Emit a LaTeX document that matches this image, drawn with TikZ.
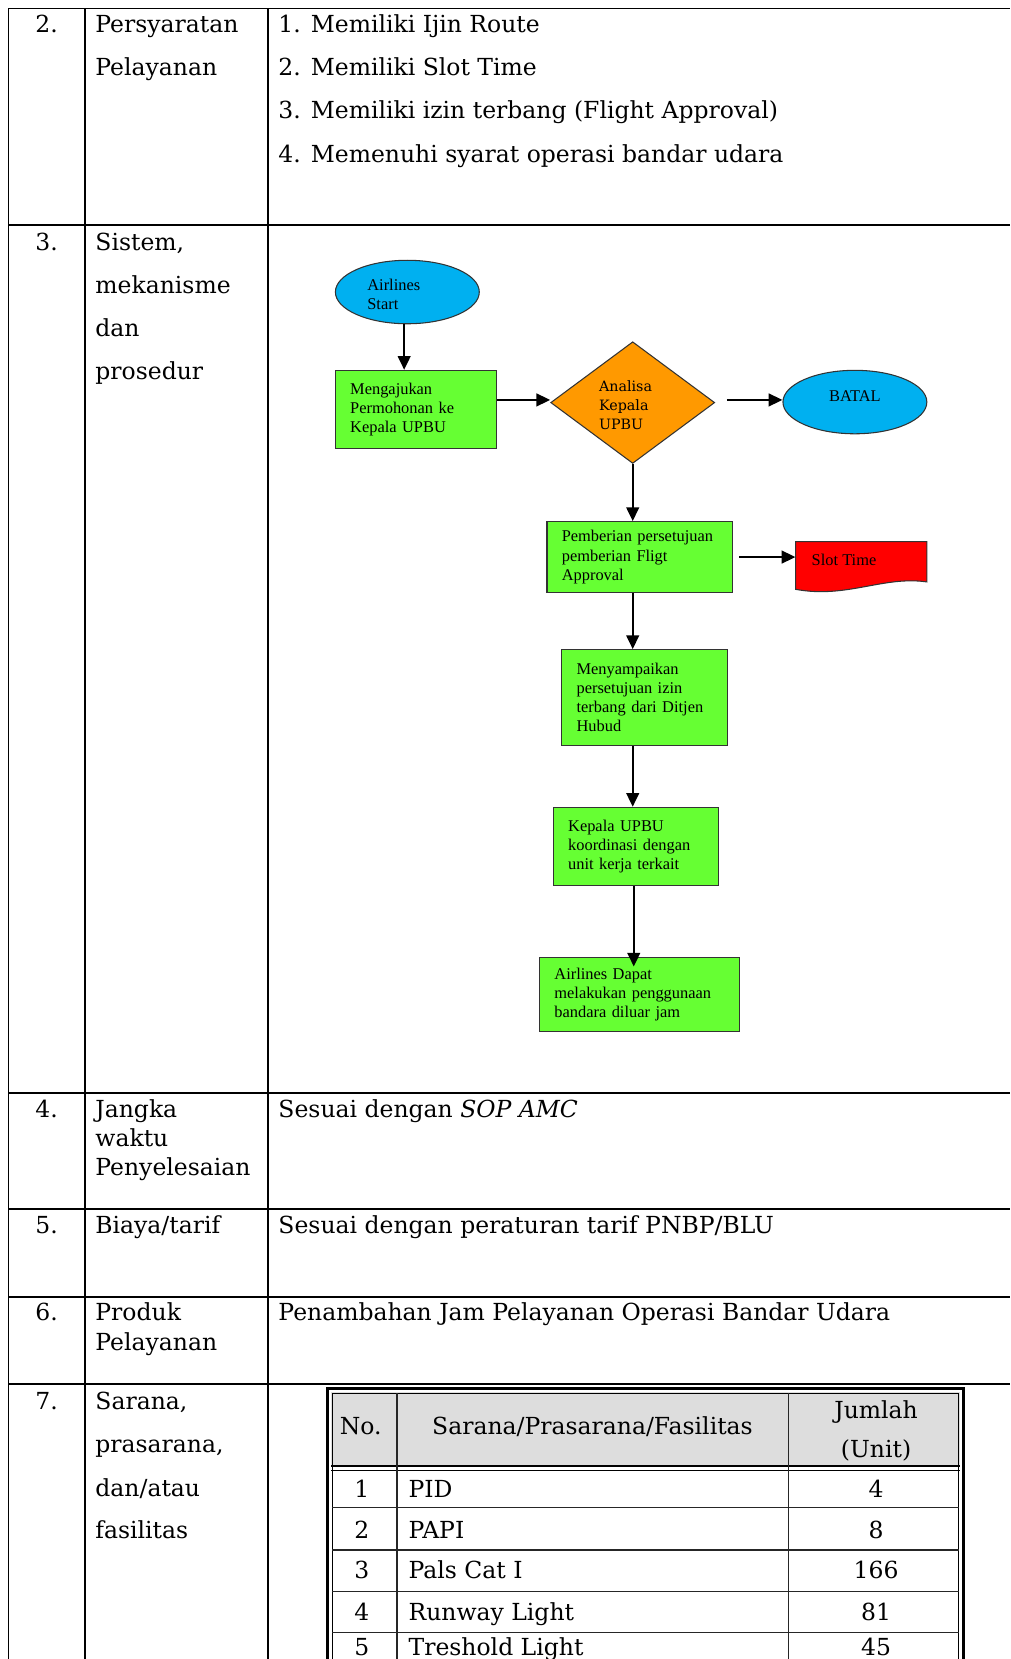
\documentclass[tikz,border=0pt]{standalone}
\usepackage{fontspec}
\setmainfont{DejaVu Serif}
\newfontfamily\fcfont{Liberation Serif}
\usetikzlibrary{shapes.geometric,arrows.meta,calc}
\definecolor{procgreen}{HTML}{66FF33}
\definecolor{decorange}{HTML}{FF9900}
\definecolor{termblue}{HTML}{00B0F0}
\definecolor{hdrgrey}{HTML}{DDDDDD}
\begin{document}
\begin{tikzpicture}[x=1pt,y=-1pt,
  grid/.style={line width=1.8pt,black},
  body/.style={anchor=base west,inner sep=0pt,font=\fontsize{22.2}{26}\selectfont},
  numc/.style={anchor=base,inner sep=0pt,font=\fontsize{22.2}{26}\selectfont},
  fctext/.style={font=\fcfont\fontsize{15.5}{18}\selectfont},
  procbox/.style={rectangle,draw=black!80,line width=1pt,fill=procgreen,inner xsep=14pt,inner ysep=0pt,align=left,fctext},
  termnode/.style={ellipse,draw=black!80,line width=1pt,fill=termblue,minimum width=136pt,minimum height=60pt,inner sep=0pt},
  flowarrow/.style={line width=2pt,-{Triangle[length=13pt,width=12pt]}},
  tline/.style={line width=1.4pt,black!85}
]
\useasboundingbox (0,0) rectangle (955,1568);
\clip (0,0) rectangle (955,1568);
\fill[white] (0,0) rectangle (955,1568);

% ---------- main table grid ----------
\draw[grid] (8,8) -- (955,8);
\draw[grid] (8,8) -- (8,1570);
\draw[grid] (80,8) -- (80,1570);
\draw[grid] (253,8) -- (253,1570);
\foreach \yy in {213,1033,1143,1226,1308} \draw[grid] (8,\yy) -- (955,\yy);

% ---------- row 2 ----------
\node[numc] (n2) at (44,31) {2.};
\node[body] (l2a) at (90,31) {Persyaratan};
\node[body] (l2b) at (90,71) {Pelayanan};
\node[body] (r2a) at (263,31) {1. Memiliki Ijin Route};
\node[body] (r2b) at (263,71) {2. Memiliki Slot Time};
\node[body] (r2c) at (263,112) {3. Memiliki izin terbang (Flight Approval)};
\node[body] (r2d) at (263,154) {4. Memenuhi syarat operasi bandar udara};

% ---------- row 3 ----------
\node[numc] (n3) at (44,237) {3.};
\node[body] (l3a) at (90,237) {Sistem,};
\node[body] (l3b) at (90,277) {mekanisme};
\node[body] (l3c) at (90,318) {dan};
\node[body] (l3d) at (90,359) {prosedur};

% flowchart
\node[termnode] (start) at (385,276) {};
\node[fctext,anchor=west,align=left,inner sep=0pt] (starttxt) at (347,278) {Airlines\\Start};
\node[procbox,minimum width=152pt,minimum height=74pt,text width=124pt] (mreq) at (393,387)
  {Mengajukan\\Permohonan ke\\Kepala UPBU};
\node[diamond,draw=black!80,line width=1pt,fill=decorange,minimum width=155pt,minimum height=115pt,inner sep=0pt] (dia) at (598,380.5) {};
\node[anchor=west,align=left,inner sep=0pt,font=\fontsize{13.5}{18}\selectfont] (diatxt) at (566,383) {Analisa\\Kepala\\UPBU};
\node[termnode] (batal) at (808,380) {};
\node[fctext,inner sep=0pt] (bataltxt) at (808,374) {BATAL};
\node[procbox,minimum width=175pt,minimum height=67pt,text width=147pt] (pem) at (604.5,526.5)
  {Pemberian persetujuan\\pemberian Fligt\\Approval};
\node[minimum width=124pt,minimum height=48pt,inner sep=0pt] (slot) at (814,536) {};
\fill[red] (752,512) -- (876,512) -- (876,550) .. controls (835,544) and (800,566) .. (752,557) -- cycle;
\draw[black!80,line width=1pt] (752,512) -- (876,512) -- (876,550) .. controls (835,544) and (800,566) .. (752,557) -- cycle;
\node[fctext,anchor=west,inner sep=0pt] (slottxt) at (767,529) {Slot Time};
\node[procbox,minimum width=157pt,minimum height=91pt,text width=129pt] (meny) at (609.5,659.5)
  {Menyampaikan\\persetujuan izin\\terbang dari Ditjen\\Hubud};
\node[procbox,minimum width=156pt,minimum height=74pt,text width=128pt] (koord) at (601,800)
  {Kepala UPBU\\koordinasi dengan\\unit kerja terkait};
\node[procbox,minimum width=189pt,minimum height=70pt,text width=161pt] (fin) at (604.5,940)
  {Airlines Dapat\\melakukan penggunaan\\bandara diluar jam};

\draw[flowarrow] ([xshift=-3pt]start.south) -- ([xshift=-3pt]start.south |- mreq.north);
\draw[flowarrow] (mreq.east |- 0,378) -- (dia.west |- 0,378);
\draw[flowarrow] ([xshift=11pt]dia.east |- 0,378) -- (batal.west |- 0,378);
\draw[flowarrow] (dia.south) -- (dia.south |- pem.north);
\draw[flowarrow] ([xshift=6pt]pem.east) -- (slot.west |- pem.east);
\draw[flowarrow] (dia.south |- pem.south) -- (dia.south |- meny.north);
\draw[flowarrow] (dia.south |- meny.south) -- (dia.south |- koord.north);
\draw[flowarrow] ([xshift=1pt]dia.south |- koord.south) -- ([xshift=1pt,yshift=-9pt]dia.south |- fin.north);

% ---------- row 4 ----------
\node[numc] (n4) at (44,1056) {4.};
\node[body] (l4a) at (90,1056) {Jangka};
\node[body] (l4b) at (90,1084) {waktu};
\node[body] (l4c) at (90,1111) {Penyelesaian};
\node[body] (r4) at (263,1056) {Sesuai dengan \textit{SOP AMC}};

% ---------- row 5 ----------
\node[numc] (n5) at (44,1166) {5.};
\node[body] (l5) at (90,1166) {Biaya/tarif};
\node[body] (r5) at (263,1166) {Sesuai dengan peraturan tarif PNBP/BLU};

% ---------- row 6 ----------
\node[numc] (n6) at (44,1248) {6.};
\node[body] (l6a) at (90,1248) {Produk};
\node[body] (l6b) at (90,1276) {Pelayanan};
\node[body] (r6) at (263,1248) {Penambahan Jam Pelayanan Operasi Bandar Udara};

% ---------- row 7 ----------
\node[numc] (n7) at (44,1332) {7.};
\node[body] (l7a) at (90,1332) {Sarana,};
\node[body] (l7b) at (90,1373) {prasarana,};
\node[body] (l7c) at (90,1414) {dan/atau};
\node[body] (l7d) at (90,1454) {fasilitas};

% inner table
\fill[white] (308,1311) rectangle (912,1580);
\fill[hdrgrey] (313,1316) rectangle (907,1385);
\draw[line width=3pt,black] (309.5,1312.5) rectangle (910.5,1590);
\draw[line width=1pt,black] (314,1317) rectangle (906,1590);
\draw[line width=2.4pt,black] (313,1385.5) -- (907,1385.5);
\draw[line width=1pt,black] (313,1390) -- (907,1390);
\draw[tline] (375,1317) -- (375,1590);
\draw[tline] (745,1317) -- (745,1590);
\foreach \yy in {1425,1465,1504,1543} \draw[tline] (314,\yy) -- (906,\yy);

\node[numc] (h1) at (341,1356) {No.};
\node[numc] (h2) at (560,1356) {Sarana/Prasarana/Fasilitas};
\node[numc] (h3a) at (828,1341) {Jumlah};
\node[numc] (h3b) at (828,1378) {(Unit)};

\node[numc] (c11) at (342,1415) {1};
\node[body] (c12) at (386,1415) {PID};
\node[numc] (c13) at (828,1415) {4};
\node[numc] (c21) at (342,1454) {2};
\node[body] (c22) at (386,1454) {PAPI};
\node[numc] (c23) at (828,1454) {8};
\node[numc] (c31) at (342,1492) {3};
\node[body] (c32) at (386,1492) {Pals Cat I};
\node[numc] (c33) at (828,1492) {166};
\node[numc] (c41) at (342,1532) {4};
\node[body] (c42) at (386,1532) {Runway Light};
\node[numc] (c43) at (828,1532) {81};
\node[numc] (c51) at (342,1565) {5};
\node[body] (c52) at (386,1565) {Treshold Light};
\node[numc] (c53) at (828,1565) {45};
\end{tikzpicture}
\end{document}
